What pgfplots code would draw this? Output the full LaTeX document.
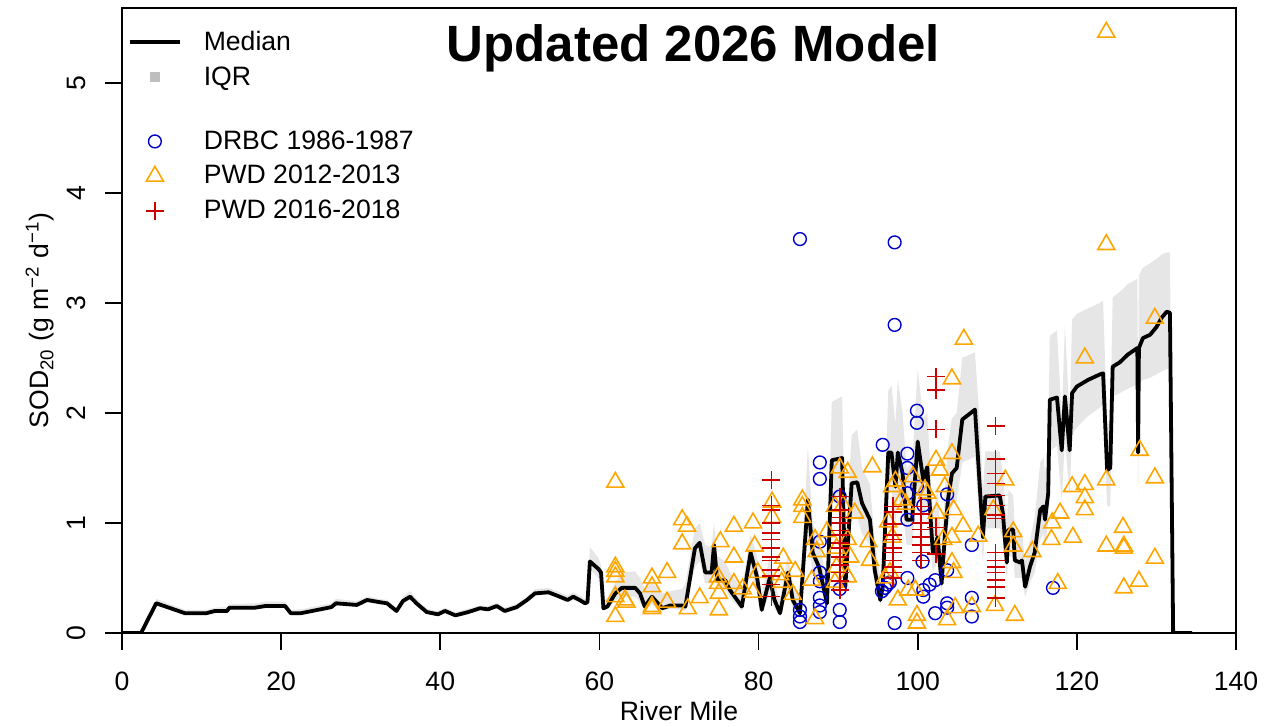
\documentclass[border=0pt]{standalone}
\usepackage{pgfplots}
\pgfplotsset{compat=1.18}
\usepackage{pgfplotstable}
\usepgfplotslibrary{fillbetween}
\usepackage{fontspec}
\setmainfont{Liberation Sans}
\definecolor{drbc}{RGB}{0,0,205}
\definecolor{pwdA}{RGB}{255,165,0}
\definecolor{pwdB}{RGB}{205,0,0}
\definecolor{iqr}{RGB}{230,230,230}
\definecolor{iqrleg}{RGB}{190,190,190}

\pgfplotstableread{
x med lo hi
0 0 0 0
2.4 0 0 0
4.3 0.27 0.25 0.31
7.9 0.18 0.165 0.21
10.6 0.18 0.165 0.21
11.7 0.20 0.185 0.23
13.2 0.20 0.185 0.235
13.5 0.23 0.21 0.26
16.7 0.23 0.21 0.27
18.0 0.245 0.225 0.285
20.5 0.245 0.225 0.285
21.2 0.18 0.165 0.21
22.5 0.18 0.165 0.215
26.3 0.235 0.215 0.27
26.9 0.27 0.25 0.31
29.5 0.255 0.235 0.29
30.8 0.30 0.28 0.33
32.4 0.28 0.26 0.31
33.3 0.27 0.25 0.30
34.5 0.20 0.185 0.23
35.3 0.29 0.27 0.33
36.2 0.33 0.30 0.38
37.0 0.27 0.25 0.31
38.3 0.19 0.175 0.22
39.7 0.17 0.155 0.20
40.6 0.20 0.185 0.23
41.9 0.16 0.15 0.19
43.5 0.19 0.175 0.22
45.0 0.225 0.21 0.25
46.0 0.215 0.20 0.245
47.1 0.245 0.225 0.275
48.1 0.20 0.185 0.23
49.6 0.235 0.215 0.265
50.9 0.30 0.28 0.33
51.9 0.36 0.34 0.40
53.6 0.37 0.35 0.41
55.0 0.33 0.31 0.37
56.0 0.30 0.28 0.34
56.7 0.33 0.30 0.37
57.5 0.30 0.28 0.34
58.2 0.27 0.25 0.31
58.5 0.28 0.26 0.33
58.8 0.65 0.58 0.78
59.9 0.58 0.50 0.68
60.2 0.55 0.45 0.62
60.5 0.225 0.20 0.30
61.0 0.24 0.22 0.32
62.0 0.36 0.30 0.46
62.8 0.41 0.33 0.55
64.5 0.41 0.33 0.56
65.1 0.36 0.28 0.50
65.7 0.24 0.21 0.40
66.6 0.33 0.26 0.46
67.9 0.225 0.20 0.36
68.9 0.25 0.22 0.38
70.4 0.25 0.21 0.40
70.8 0.24 0.20 0.45
72.0 0.77 0.60 0.95
72.6 0.82 0.65 1.00
73.3 0.55 0.45 0.80
74.1 0.55 0.45 0.78
74.4 0.80 0.60 1.00
74.8 0.48 0.40 0.70
75.8 0.48 0.40 0.65
76.4 0.39 0.32 0.55
77.9 0.24 0.20 0.40
79.0 0.73 0.55 0.90
79.8 0.51 0.40 0.70
80.4 0.21 0.18 0.35
81.4 0.50 0.35 0.70
82.0 0.30 0.22 0.45
82.7 0.18 0.15 0.30
83.7 0.55 0.40 0.72
84.3 0.30 0.22 0.45
85.2 0.18 0.14 0.30
86.2 1.21 0.90 1.70
86.8 0.73 0.55 1.00
87.6 0.60 0.45 0.85
88.6 0.27 0.20 0.45
89.2 1.57 1.20 2.10
90.5 1.59 1.25 2.15
90.9 0.42 0.33 0.80
91.7 1.36 1.05 1.80
92.4 1.37 1.05 1.85
93.0 1.18 0.90 1.50
94.0 1.03 0.80 1.35
94.6 0.57 0.45 0.85
95.3 0.30 0.25 0.50
95.6 0.42 0.33 0.65
96.3 1.64 1.25 2.20
96.7 1.64 1.30 2.25
97.2 1.33 1.00 1.90
97.5 1.64 1.25 2.30
98.1 1.45 1.10 2.00
98.6 1.03 0.80 1.50
99.3 1.03 0.80 1.55
100.0 1.74 1.35 2.40
100.7 1.39 1.05 1.95
101.2 1.51 1.15 2.00
101.9 0.73 0.55 1.10
102.5 0.87 0.65 1.30
103.0 0.45 0.35 0.75
103.4 0.87 0.65 1.30
103.8 1.21 0.95 1.70
104.3 1.45 1.15 1.95
104.9 1.50 1.20 2.00
105.6 1.94 1.55 2.50
107.2 2.03 1.60 2.55
107.8 1.33 1.00 1.90
108.2 0.87 0.65 1.30
108.5 1.24 0.95 1.65
110.3 1.25 0.95 1.65
110.7 1.09 0.85 1.45
111.2 0.64 0.50 1.00
111.4 0.94 0.70 1.30
112.0 0.94 0.70 1.25
112.2 0.66 0.50 0.95
112.9 0.64 0.50 0.90
113.1 0.66 0.50 0.92
113.5 0.42 0.33 0.65
114.1 0.60 0.45 0.85
114.7 0.73 0.55 1.05
115.4 1.12 0.85 1.55
115.8 1.15 0.90 1.60
116.0 1.03 0.80 1.45
116.4 1.27 1.00 1.80
116.6 2.12 1.65 2.70
117.5 2.14 1.70 2.75
118.1 1.66 1.20 1.95
118.5 2.15 1.75 2.80
119.1 1.66 1.25 1.95
119.4 2.18 1.80 2.85
120.0 2.24 1.87 2.90
121.4 2.30 1.97 2.95
122.9 2.35 2.05 3.00
123.3 2.36 2.07 3.02
123.8 1.48 1.15 1.90
124.2 1.50 1.15 1.90
124.5 2.42 2.15 3.05
125.4 2.46 2.18 3.10
126.4 2.53 2.22 3.17
127.6 2.59 2.26 3.22
127.7 1.64 1.20 2.20
127.8 2.59 2.27 3.25
128.3 2.68 2.30 3.32
129.2 2.71 2.32 3.36
130.0 2.78 2.35 3.40
130.7 2.87 2.38 3.44
131.3 2.92 2.40 3.46
131.7 2.91 2.40 3.46
132.1 0 0 0
134.5 0 0 0
}\medtab

\pgfplotstableread{
x y
85.2 3.58
97.1 3.55
97.1 2.80
87.7 1.55
87.7 1.40
87.7 0.83
87.7 0.55
87.7 0.47
87.7 0.32
87.7 0.25
87.7 0.19
85.2 0.21
85.2 0.15
85.2 0.10
90.2 1.24
90.2 0.40
90.2 0.21
90.2 0.10
95.6 1.71
95.5 0.38
95.9 0.41
96.2 0.44
96.5 0.46
97.1 0.09
98.7 1.63
98.7 1.50
98.7 1.27
98.7 1.03
98.7 0.50
99.9 2.02
99.9 1.91
99.9 1.33
100.7 1.16
100.6 0.65
100.7 0.39
100.7 0.33
101.5 0.44
102.2 0.48
102.2 0.18
103.7 1.26
103.7 0.57
103.7 0.27
103.7 0.23
106.8 0.80
106.8 0.32
106.8 0.15
117.0 0.41
}\drbctab

\pgfplotstableread{
x y
62.0 1.37
62.0 0.60
62.0 0.56
62.0 0.51
62.0 0.33
62.0 0.15
63.2 0.30
63.4 0.28
66.6 0.50
66.6 0.42
66.6 0.24
66.6 0.22
68.5 0.55
68.5 0.28
70.4 1.03
71.0 0.97
70.4 0.81
71.1 0.22
72.6 0.32
75.2 0.83
74.9 0.51
74.9 0.45
75.0 0.36
75.0 0.21
76.9 0.97
76.9 0.69
76.9 0.45
78.0 0.40
79.3 1.00
79.5 0.79
79.3 0.37
79.9 0.55
81.7 1.19
81.7 1.05
83.1 0.68
82.7 0.53
82.9 0.46
84.6 0.56
84.3 0.35
85.5 1.21
85.5 1.15
85.5 1.05
87.1 0.85
87.3 0.74
87.1 0.13
86.7 0.48
90.2 1.50
91.2 1.46
94.3 1.51
89.6 1.15
90.6 1.16
92.1 1.09
88.6 0.92
89.8 0.77
91.2 0.85
91.5 0.69
93.8 0.83
94.0 0.66
89.8 0.60
91.2 0.51
89.6 0.46
96.8 1.33
97.2 1.38
96.3 1.01
98.0 1.21
98.5 1.17
96.8 0.87
96.5 0.55
95.9 0.50
97.5 0.30
98.8 0.39
99.9 0.16
99.9 0.09
100.9 1.30
99.4 1.42
101.2 1.27
102.3 1.57
102.8 1.48
103.4 1.33
102.4 1.09
104.3 2.31
104.3 1.63
104.5 1.12
103.2 0.85
104.3 0.87
104.3 0.64
104.5 0.55
105.8 2.67
105.7 0.97
107.6 0.88
99.7 0.39
103.7 0.12
104.7 0.23
106.8 0.24
109.7 0.25
112.2 0.16
111.0 1.39
109.5 1.12
112.0 0.92
112.0 0.79
114.4 0.74
116.9 1.00
117.9 1.09
116.8 0.85
119.5 0.87
119.4 1.33
121.0 1.35
121.0 1.23
121.0 1.12
121.0 2.50
117.6 0.45
123.7 5.46
123.7 3.53
129.8 2.86
127.9 1.66
123.7 1.39
129.8 1.41
125.8 0.96
123.7 0.79
125.9 0.79
125.9 0.77
129.8 0.68
127.8 0.47
125.9 0.41
}\pwdAtab

\pgfplotstableread{
x y
81.6 1.39
81.6 1.16
81.6 1.12
81.6 1.00
81.6 0.91
81.6 0.85
81.6 0.77
81.6 0.69
81.6 0.66
81.6 0.57
81.6 0.52
81.6 0.44
81.6 0.33
90.2 1.24
90.2 1.12
90.2 1.05
90.2 1.00
90.2 0.93
90.2 0.89
90.2 0.82
90.2 0.77
90.2 0.69
90.2 0.62
90.2 0.55
90.2 0.47
90.2 0.39
96.9 1.15
96.9 1.10
96.9 0.99
96.9 0.89
96.9 0.85
96.9 0.77
96.9 0.73
96.9 0.66
96.9 0.60
96.9 0.55
96.9 0.50
100.4 1.15
100.4 1.08
100.4 1.00
100.4 0.94
100.4 0.87
100.4 0.80
100.4 0.73
100.4 0.66
102.3 2.33
102.3 2.21
102.3 1.85
102.3 0.96
102.3 0.72
109.8 1.88
109.8 1.58
109.8 1.45
109.8 1.36
109.8 1.25
109.8 1.16
109.8 1.07
109.8 1.04
109.8 0.73
109.8 0.66
109.8 0.60
109.8 0.55
109.8 0.48
109.8 0.42
109.8 0.32
}\pwdBtab

\begin{document}
\begin{tikzpicture}
\begin{axis}[
  scale only axis, width=557pt, height=312.5pt,
  xmin=0, xmax=140, ymin=0, ymax=5.68,
  xtick={0,20,...,140}, ytick={0,1,2,3,4,5},
  tick align=outside, major tick length=8.5pt,
  xtick pos=bottom, ytick pos=left,
  axis line style={line width=0.8pt},
  tick style={line width=0.8pt, black},
  font=\fontsize{13.3}{16}\selectfont,
  /pgf/number format/assume math mode=true,
  xticklabel style={anchor=north, inner sep=0pt, yshift=-11pt},
  yticklabel style={xshift=-9.5pt, rotate=90, anchor=south, inner sep=0pt},
  xlabel={River Mile},
  xlabel style={at={(axis description cs:0.5,-0.1408)}, anchor=base, inner sep=0pt},
  ylabel={SOD\textsubscript{20} (g m\textsuperscript{−2} d\textsuperscript{−1})},
  ylabel style={at={(axis description cs:-0.0736,0.5)}, anchor=center, rotate=0, inner sep=0pt},
  legend image code/.code={\draw[mark repeat=2, mark phase=2, #1] plot coordinates {(0pt,0pt) (12.5pt,0pt) (25pt,0pt)};},
  legend style={at={(axis description cs:0,1)}, anchor=north west, xshift=3pt, yshift=-11.5pt,
    draw=none, fill=none, inner sep=0pt, outer sep=0pt, row sep=6.6pt, column sep=11pt,
    nodes={inner sep=0pt}, font=\fontsize{13.3}{16}\selectfont},
  legend cell align=left,
]
\addlegendimage{black, line width=1.9pt, mark=none}
\addlegendentry{Median}
\addlegendimage{only marks, mark=square*, mark size=2.3pt, iqrleg}
\addlegendentry{IQR}
\addlegendimage{empty legend}
\addlegendentry{\rule{0pt}{6.6pt}}
\addlegendimage{only marks, mark=o, mark size=3.2pt, drbc, line width=0.7pt}
\addlegendentry{DRBC 1986-1987}
\addlegendimage{only marks, mark=triangle, mark size=4.9pt, pwdA, line width=0.8pt}
\addlegendentry{PWD 2012-2013}
\addlegendimage{only marks, mark=+, mark size=4.5pt, pwdB, line width=0.8pt}
\addlegendentry{PWD 2016-2018}

\addplot[draw=none, name path=hi, forget plot] table[x=x, y=hi]{\medtab};
\addplot[draw=none, name path=lo, forget plot] table[x=x, y=lo]{\medtab};
\addplot[iqr, forget plot] fill between[of=hi and lo];
\addplot[black, line width=1.9pt, line join=round, forget plot] table[x=x, y=med]{\medtab};
\addplot[only marks, mark=o, mark size=3.2pt, drbc, line width=0.7pt, forget plot] table[x=x, y=y]{\drbctab};
\addplot[only marks, mark=triangle, mark size=4.9pt, pwdA, line width=0.8pt, forget plot] table[x=x, y=y]{\pwdAtab};
\addplot[only marks, mark=+, mark size=4.5pt, pwdB, line width=0.8pt, forget plot] table[x=x, y=y]{\pwdBtab};

\node[anchor=base, font=\bfseries\fontsize{25.5}{30}\selectfont] at (axis cs:71.8,5.19) {Updated 2026 Model};
\end{axis}
\pgfresetboundingbox
\path[use as bounding box] (-61pt,-47pt) rectangle (579.5pt,316.5pt);
\end{tikzpicture}
\end{document}
